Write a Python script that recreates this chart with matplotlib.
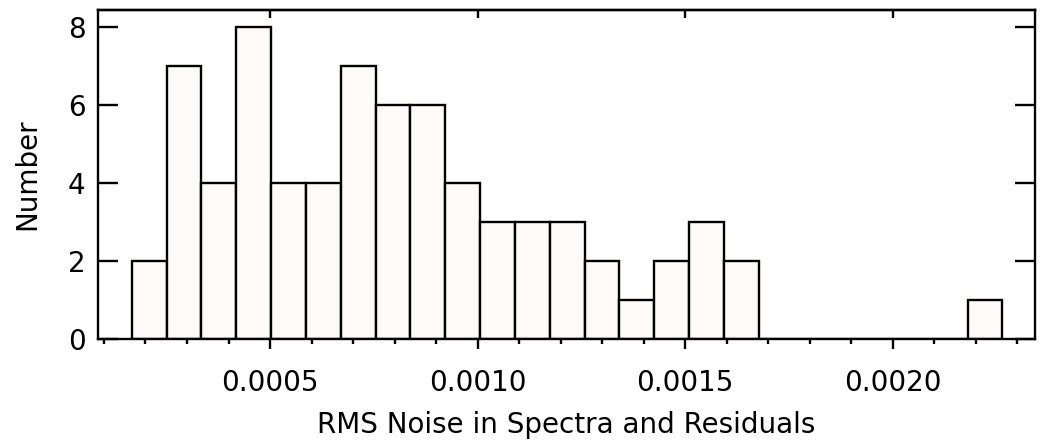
import numpy as np
import matplotlib
matplotlib.use('Agg')
import matplotlib.pyplot as plt
from matplotlib.ticker import MultipleLocator

# histogram of RMS noise, 25 bins
bin_start = 0.000167
bin_width = 0.0000839
counts = [2, 7, 4, 8, 4, 4, 7, 6, 6, 4, 3, 3, 3, 2, 1, 2, 3, 2,
          0, 0, 0, 0, 0, 0, 1]
x_ticks = [0.0005, 0.0010, 0.0015, 0.0020]
x_ticklabels = ['0.0005', '0.0010', '0.0015', '0.0020']
y_ticks = [0, 2, 4, 6, 8]

plt.rcParams['font.family'] = 'DejaVu Sans'

fig = plt.figure(figsize=(10.4, 4.4), dpi=100)
ax = fig.add_axes([0.0942, 0.2295, 0.901, 0.7477])

lefts = bin_start + bin_width * np.arange(len(counts))
ax.bar(lefts, counts, width=bin_width, align='edge',
       color='#fffafa', edgecolor='black', linewidth=1.7)

ax.set_xlim(0.0000855, 0.002343)
ax.set_ylim(0, 8.44)

ax.set_xticks(x_ticks)
ax.set_xticklabels(x_ticklabels)
ax.xaxis.set_minor_locator(MultipleLocator(0.0001))
ax.set_yticks(y_ticks)

ax.tick_params(axis='x', which='major', direction='out', length=7.5, width=1.7,
               pad=14, labelsize=20)
ax.tick_params(axis='x', which='minor', direction='out', length=3.5, width=1.7)
ax.tick_params(axis='y', which='major', direction='in', length=14.5, width=1.7,
               left=True, right=True, pad=9, labelsize=20)

# top axis: major ticks pointing in, no labels
top = ax.secondary_xaxis('top')
top.set_xticks(x_ticks)
top.tick_params(direction='in', length=6, width=1.7, labeltop=False)
top.spines['top'].set_linewidth(1.7)

for s in ax.spines.values():
    s.set_linewidth(1.7)

ax.set_xlabel('RMS Noise in Spectra and Residuals', fontsize=20, labelpad=10)
ax.set_ylabel('Number', fontsize=20, labelpad=19)

fig.savefig('out.png', dpi=100)
